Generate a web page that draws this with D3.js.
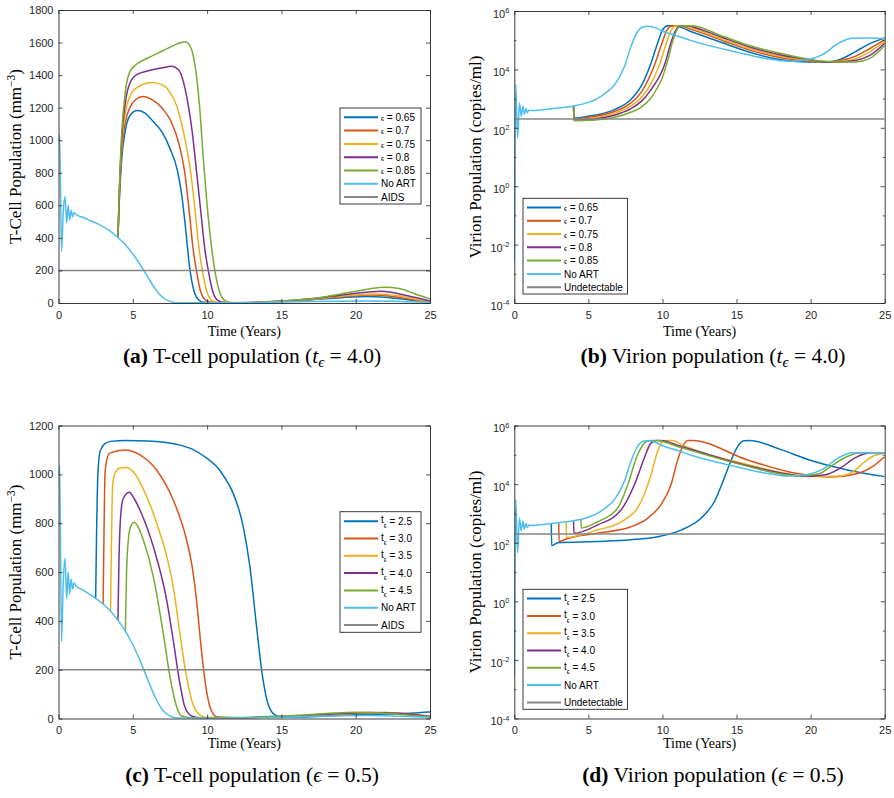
<!DOCTYPE html>
<html>
<head>
<meta charset="utf-8">
<script src="https://cdn.jsdelivr.net/npm/d3@7/dist/d3.min.js"></script>
<style>
  body { margin: 0; background: #fff; }
  svg { display: block; }
</style>
</head>
<body>
<svg id="chart" width="894" height="798"></svg>
<script>
// ---- tick labels ----
const yearTicks = [0, 5, 10, 15, 20, 25];
const tcellTicksA = [0, 200, 400, 600, 800, 1000, 1200, 1400, 1600, 1800];
const tcellTicksC = [0, 200, 400, 600, 800, 1000, 1200];
const virionTicks = [1e-4, 1e-2, 1, 1e2, 1e4, 1e6];

// ---- legend categories ----
const epsLevels = ['0.65', '0.7', '0.75', '0.8', '0.85'];
const startTimes = ['2.5', '3.0', '3.5', '4.0', '4.5'];
const aidsLevel = 200;          // T-cells / mm^3
const undetectableLevel = 200;  // copies / ml

// ---- T-cell population, no treatment [years, cells/mm^3] ----
const tcellNoArt = [[0,1000],[0.08,1035],[0.2,315],[0.32,560],[0.44,655],[0.55,490],[0.65,600],[0.75,510],[0.85,570],
  [0.95,530],[1.05,555],[1.2,542],[1.6,528],[2,512],[2.5,492],[3,469],[3.5,440],[4,402],[4.5,358],[5,302],[5.5,235],
  [6,160],[6.5,88],[7,35],[7.5,10],[8,2],[10,1],[13,3],[16,7],[19,11],[21,12],[23,9],[25,5]];

// (a) T-cells, treatment from t = 4.0 with different efficacies
const tcellEps065 = [[4,402],[4.1,640],[4.25,880],[4.5,1060],[4.8,1150],[5.3,1182],[5.8,1168],[6.4,1112],[7,1045],[7.5,950],
  [8,815],[8.3,660],[8.55,460],[8.85,200],[9.1,80],[9.4,22],[9.8,4],[11,1],[13,3],[15,10],[17,20],[19,33],[20.8,40],[22,35],[23.5,20],[25,3]];
const tcellEps07 = [[4,402],[4.1,660],[4.25,920],[4.5,1110],[4.8,1200],[5.2,1250],[5.7,1268],[6.3,1250],[7,1195],[7.6,1110],
  [8.1,980],[8.5,800],[8.8,560],[9.05,340],[9.28,200],[9.55,75],[9.9,18],[10.4,3],[12,1],[15,11],[17,22],[19,38],[21,49],[22.5,40],[24,18],[25,5]];
const tcellEps075 = [[4,402],[4.1,680],[4.25,960],[4.5,1170],[4.8,1270],[5.3,1325],[6.3,1355],[7,1340],[7.5,1295],[8,1200],
  [8.5,1010],[8.9,800],[9.2,560],[9.45,340],[9.68,200],[9.95,80],[10.3,18],[10.8,3],[12,1],[15,11],[17,24],[19,42],[21.3,56],[23,43],[24,25],[25,8]];
const tcellEps08 = [[4,402],[4.1,700],[4.25,1000],[4.5,1230],[4.8,1350],[5.3,1405],[6,1425],[7,1445],[7.6,1455],[8.1,1430],
  [8.6,1280],[9,1050],[9.3,800],[9.6,540],[9.85,330],[10.08,200],[10.35,80],[10.7,18],[11.2,3],[12,1],[15,12],[17,26],[19,48],[21.7,72],[23.5,45],[25,12]];
const tcellEps085 = [[4,402],[4.1,720],[4.25,1040],[4.5,1300],[4.8,1420],[5.3,1470],[6,1505],[7,1548],[8,1592],[8.55,1605],
  [8.9,1570],[9.25,1420],[9.5,1200],[9.75,880],[10,600],[10.25,380],[10.52,200],[10.8,80],[11.15,18],[11.6,3],[12.5,1],
  [15,13],[16,18],[18,39],[20,72],[21.9,96],[23,88],[24,55],[25,25]];

// (c) T-cells, efficacy 0.5 with different start times
const tcellStart25 = [[2.5,492],[2.56,750],[2.65,1000],[2.8,1095],[3.1,1125],[3.5,1135],[4.5,1139],[6,1137],[8,1122],[9,1103],
  [10,1065],[10.64,1032],[11.2,985],[11.76,922],[12.43,786],[12.88,622],[13.33,376],[13.67,198],[14,82],[14.45,20],[14.9,7],
  [16,6],[18,10],[20,15],[22,18],[24,23],[25,27]];
const tcellStart30 = [[3,469],[3.06,750],[3.13,1000],[3.25,1060],[3.46,1087],[4.47,1100],[5.48,1080],[6.6,1018],[7.72,895],
  [8.62,731],[9,620],[9.29,485],[9.52,340],[9.74,212],[10,100],[10.19,48],[10.64,7],[12,3],[15,8],[18,15],[20,20],[22,25],[23,22],[25,10]];
const tcellStart35 = [[3.5,440],[3.56,700],[3.64,950],[3.8,1005],[4.1,1025],[4.54,1028],[5.03,1011],[5.93,909],[6.83,759],
  [7.3,660],[7.72,540],[8.17,349],[8.5,212],[8.96,75],[9.52,14],[10,4],[12,3],[15,8],[18,16],[21,24],[22.5,22],[25,8]];
const tcellStart40 = [[4,402],[4.07,650],[4.18,827],[4.35,900],[4.76,927],[5.1,900],[5.48,854],[6.38,704],[7.28,485],
  [7.72,321],[8.17,143],[8.5,48],[8.96,10],[9.5,3],[12,3],[15,8],[18,17],[21,25],[23,20],[25,7]];
const tcellStart45 = [[4.5,358],[4.58,600],[4.7,731],[4.85,785],[5.1,804],[5.4,780],[5.71,731],[6.38,581],[7.05,349],
  [7.5,171],[7.95,48],[8.28,10],[9,3],[12,4],[15,10],[18,20],[20,26],[22,22],[25,6]];

// ---- Virion population, no treatment [years, copies/ml] ----
const virionNoArt = [[0,2.5e-3],[0.1,3.0e3],[0.22,45],[0.35,7.0e2],[0.47,2.5e2],[0.58,5.5e2],[0.68,2.9e2],[0.78,4.6e2],
  [0.88,3.3e2],[1,4.0e2],[1.2,3.9e2],[2,4.2e2],[3,4.8e2],[4,5.6e2],[5,7.4e2],[5.6,1.0e3],[6.2,1.6e3],[6.75,2.9e3],
  [7.1,5.6e3],[7.42,1.2e4],[7.87,6.0e4],[8.32,1.95e5],[8.7,2.9e5],[9,3.0e5],[9.5,2.7e5],[10.1,1.95e5],[11,1.4e5],
  [12,9.5e4],[13.5,5.9e4],[15,3.9e4],[16.9,2.4e4],[18.6,1.9e4],[19.7,2.1e4],[20.8,3.2e4],[21.9,8.0e4],[22.8,1.17e5],
  [24,1.2e5],[25,1.15e5]];

// (b) virions, treatment from t = 4.0 with different efficacies
const virionEps065 = [[4,5.6e2],[4.02,2.15e2],[5,2.5e2],[5.62,2.8e2],[6.75,4.2e2],[7.87,9.3e2],[8.55,2.6e3],[9.22,1.6e4],
  [9.67,7.8e4],[10,2.2e5],[10.35,3.1e5],[10.8,3.15e5],[12,1.9e5],[14,8.3e4],[16,3.7e4],[18,2.15e4],[20,1.8e4],[21,1.8e4],
  [22,2.2e4],[23,4.0e4],[24,7.6e4],[25,1.2e5]];
const virionEps07 = [[4,5.6e2],[4.02,2.0e2],[5,2.3e2],[5.62,2.55e2],[6.75,3.6e2],[7.87,7.1e2],[8.55,1.6e3],[9.5,1.6e4],
  [9.95,7.5e4],[10.3,2.2e5],[10.65,3.1e5],[11.1,3.15e5],[12,2.3e5],[14,1.0e5],[16,4.4e4],[18,2.5e4],[20,1.9e4],[21,1.8e4],
  [22,2.0e4],[23,2.8e4],[24,5.2e4],[25,1.05e5]];
const virionEps075 = [[4,5.6e2],[4.02,1.9e2],[5,2.1e2],[5.62,2.3e2],[6.75,3.1e2],[7.87,5.6e2],[8.55,1.05e3],[9.22,3.2e3],
  [9.83,1.6e4],[10.25,7.5e4],[10.6,2.2e5],[10.95,3.1e5],[11.4,3.15e5],[12,2.6e5],[14,1.1e5],[16,5.0e4],[18,2.8e4],[20,2.0e4],
  [21,1.8e4],[22,1.85e4],[23,2.3e4],[24,4.0e4],[25,9.1e4]];
const virionEps08 = [[4,5.6e2],[4.02,1.8e2],[5,1.95e2],[5.62,2.1e2],[6.75,2.7e2],[7.87,4.5e2],[8.55,7.9e2],[9.22,2.0e3],
  [10.17,1.6e4],[10.55,7.5e4],[10.9,2.2e5],[11.25,3.1e5],[11.7,3.15e5],[12,2.9e5],[14,1.26e5],[16,5.6e4],[18,3.1e4],
  [20,2.1e4],[21,1.8e4],[22,1.8e4],[23,2.0e4],[24,3.0e4],[25,7.9e4]];
const virionEps085 = [[4,5.6e2],[4.02,1.75e2],[5,1.8e2],[5.62,1.9e2],[6.75,2.3e2],[7.87,3.4e2],[8.55,5.0e2],[9.22,1.05e3],
  [9.67,2.4e3],[10,5.4e3],[10.35,2.0e4],[10.7,9.5e4],[11,2.4e5],[11.3,3.1e5],[12,3.15e5],[14,1.4e5],[16,6.3e4],[18,3.5e4],
  [20,2.2e4],[21,1.9e4],[22,1.8e4],[23,1.8e4],[24,2.4e4],[25,6.6e4]];

// (d) virions, efficacy 0.5 with different start times
const virionStart25 = [[2.5,4.5e2],[2.52,78],[2.92,1.0e2],[5.6,1.1e2],[7.87,1.26e2],[9.67,1.6e2],[11.25,2.7e2],[12.6,6.8e2],
  [13.5,2.5e3],[14.17,1.6e4],[14.6,5.9e4],[15.07,1.9e5],[15.5,3.0e5],[15.9,3.1e5],[16.3,2.9e5],[18,1.5e5],[20.2,6.0e4],
  [22.4,3.1e4],[25,1.8e4]];
const virionStart30 = [[3,4.8e2],[3.02,1.1e2],[3.6,1.4e2],[5.6,2.1e2],[7.87,3.5e2],[9,6.8e2],[9.9,2.0e3],[10.57,9.3e3],
  [11,5.9e4],[11.36,1.9e5],[11.7,3.1e5],[12,3.1e5],[15.7,6.8e4],[19.1,2.3e4],[21.4,1.75e4],[23.2,2.3e4],[24.2,4.0e4],[25,8.7e4]];
const virionStart35 = [[3.5,5.2e2],[3.52,1.5e2],[5.6,2.7e2],[7.42,5.9e2],[8.55,2.5e3],[9.22,2.0e4],[9.67,1.3e5],[10,2.8e5],
  [10.4,3.1e5],[10.7,3.1e5],[11.18,2.35e5],[15.7,4.7e4],[18,2.5e4],[20.3,1.8e4],[22,1.9e4],[22.8,2.5e4],[23.5,5.0e4],
  [24.2,8.9e4],[25,1.12e5]];
const virionStart40 = [[4,5.6e2],[4.02,2.1e2],[5.6,4.0e2],[7.2,1.3e3],[8.1,9.3e3],[8.77,7.6e4],[9.22,2.5e5],[9.6,3.1e5],
  [9.9,3.1e5],[11.18,2.0e5],[15.7,4.3e4],[18,2.4e4],[19.6,1.85e4],[21,2.1e4],[22,3.5e4],[23,7.9e4],[24.1,1.17e5],[25,1.17e5]];
const virionStart45 = [[4.5,6.3e2],[4.52,3.2e2],[5.6,5.1e2],[6.97,1.5e3],[7.65,9.3e3],[8.32,1.0e5],[8.9,2.8e5],[9.3,3.1e5],
  [9.6,3.1e5],[11.18,1.8e5],[15.7,4.1e4],[18,2.2e4],[19.2,1.9e4],[20.5,2.2e4],[21.5,4.5e4],[22.5,8.9e4],[23.5,1.17e5],[25,1.17e5]];

// MATLAB default line colours
const colors = ['#0072BD', '#D95319', '#EDB120', '#7E2F8E', '#77AC30', '#4DBEEE'];
const grey = '#868686';
const ink = '#262626';
const sans = 'Liberation Sans, Arial, sans-serif';
const serif = 'Liberation Serif, Times New Roman, serif';

const svg = d3.select('#chart');
svg.append('rect').attr('width', 894).attr('height', 798).attr('fill', '#fff');

const panels = [
  { id: 'a', left: 58.5, right: 430, top: 10, bottom: 303, log: false, yMax: 1800, yTicks: tcellTicksA,
    series: [tcellEps065, tcellEps07, tcellEps075, tcellEps08, tcellEps085, tcellNoArt], level: aidsLevel,
    yTitle: 'tcell', titleX: 21, xTitleY: 336,
    legend: { x: 340, y: 108, w: 81, h: 96, first: 9.3, step: 13.3, kind: 'eps', last: 'AIDS' },
    caption: { x: 252, y: 363, tag: '(a)', text: ' T-cell population (', sym: 't', sub: 'ϵ', value: ' = 4.0)' } },
  { id: 'b', left: 514.3, right: 884.7, top: 11, bottom: 303, log: true, yTicks: virionTicks,
    series: [virionEps065, virionEps07, virionEps075, virionEps08, virionEps085, virionNoArt], level: undetectableLevel,
    yTitle: 'virion', titleX: 481, xTitleY: 336,
    legend: { x: 523, y: 198.3, w: 104.5, h: 95.7, first: 9.1, step: 13.3, kind: 'eps', last: 'Undetectable' },
    caption: { x: 713, y: 363, tag: '(b)', text: ' Virion population (', sym: 't', sub: 'ϵ', value: ' = 4.0)' } },
  { id: 'c', left: 58.5, right: 430, top: 425.5, bottom: 718.5, log: false, yMax: 1200, yTicks: tcellTicksC,
    series: [tcellStart25, tcellStart30, tcellStart35, tcellStart40, tcellStart45, tcellNoArt], level: aidsLevel,
    yTitle: 'tcell', titleX: 21, xTitleY: 748,
    legend: { x: 340, y: 511.7, w: 81, h: 120.6, first: 9.5, step: 17.3, kind: 'start', last: 'AIDS' },
    caption: { x: 252, y: 782, tag: '(c)', text: ' T-cell population (', sym: 'ϵ', sub: '', value: ' = 0.5)' } },
  { id: 'd', left: 514.3, right: 884.7, top: 425.5, bottom: 718.5, log: true, yTicks: virionTicks,
    series: [virionStart25, virionStart30, virionStart35, virionStart40, virionStart45, virionNoArt], level: undetectableLevel,
    yTitle: 'virion', titleX: 481, xTitleY: 748,
    legend: { x: 523, y: 589.3, w: 104.5, h: 120, first: 9.3, step: 17.3, kind: 'start', last: 'Undetectable' },
    caption: { x: 713, y: 782, tag: '(d)', text: ' Virion population (', sym: 'ϵ', sub: '', value: ' = 0.5)' } }
];

panels.forEach(drawPanel);

function drawPanel(p) {
  const g = svg.append('g').attr('class', 'panel-' + p.id);

  const x = d3.scaleLinear().domain([0, 25]).range([p.left, p.right]);
  const y = p.log
    ? d3.scaleLog().domain([1e-4, 1e6]).range([p.bottom, p.top])
    : d3.scaleLinear().domain([0, p.yMax]).range([p.bottom, p.top]);

  // clip the curves to the axes box like matlab does
  g.append('clipPath').attr('id', 'clip-' + p.id)
    .append('rect')
    .attr('x', p.left).attr('y', p.top)
    .attr('width', p.right - p.left).attr('height', p.bottom - p.top);

  const line = d3.line()
    .x(d => x(d[0]))
    .y(d => y(d[1]))
    .curve(d3.curveMonotoneX);

  const plot = g.append('g').attr('clip-path', `url(#clip-${p.id})`);

  plot.selectAll('.series')
    .data(p.series)
    .enter()
    .append('path')
    .attr('class', 'series')
    .attr('d', d => line(d))
    .attr('fill', 'none')
    .attr('stroke', (d, i) => colors[i])
    .attr('stroke-width', 1.5)
    .attr('stroke-linejoin', 'round');

  // AIDS / undetectable threshold
  plot.append('line')
    .attr('x1', x(0)).attr('x2', x(25))
    .attr('y1', y(p.level)).attr('y2', y(p.level))
    .attr('stroke', grey)
    .attr('stroke-width', 1.5);

  // axes box, ticks pointing inwards on all four sides
  g.append('g')
    .attr('transform', `translate(0,${p.bottom})`)
    .call(d3.axisBottom(x).tickValues(yearTicks).tickSize(-4).tickSizeOuter(0).tickPadding(8));
  g.append('g')
    .attr('transform', `translate(0,${p.top})`)
    .call(d3.axisTop(x).tickValues(yearTicks).tickSize(-4).tickSizeOuter(0).tickFormat(''));

  const leftAxis = g.append('g')
    .attr('transform', `translate(${p.left},0)`)
    .call(d3.axisLeft(y).tickValues(p.yTicks).tickSize(-4).tickSizeOuter(0).tickPadding(5)
      .tickFormat(p.log ? () => '' : d3.format('d')));
  g.append('g')
    .attr('transform', `translate(${p.right},0)`)
    .call(d3.axisRight(y).tickValues(p.yTicks).tickSize(-4).tickSizeOuter(0).tickFormat(''));

  if (p.log) {
    // minor ticks of the log axis
    const minor = y.ticks().filter(v => !p.yTicks.includes(v));
    g.append('g').attr('class', 'minor')
      .attr('transform', `translate(${p.left},0)`)
      .call(d3.axisLeft(y).tickValues(minor).tickSize(-2).tickFormat(''));
    g.append('g').attr('class', 'minor')
      .attr('transform', `translate(${p.right},0)`)
      .call(d3.axisRight(y).tickValues(minor).tickSize(-2).tickFormat(''));
    g.selectAll('.minor .domain').remove();

    // 10^n labels
    leftAxis.selectAll('.tick text').each(function(d) {
      const t = d3.select(this).attr('dy', null).attr('y', 6.4);
      t.append('tspan').text('10');
      t.append('tspan').attr('dy', -4.8).attr('font-size', 7.5).text(Math.round(Math.log10(d)));
    });
  }

  g.selectAll('.domain').attr('stroke', ink).attr('stroke-width', 0.9);
  g.selectAll('.tick line').attr('stroke', ink).attr('stroke-width', 0.8);
  g.selectAll('.tick text')
    .attr('fill', ink)
    .attr('font-family', sans)
    .attr('font-size', 11);
  g.selectAll('g').attr('font-family', null).attr('font-size', null);

  // x title
  g.append('text')
    .attr('x', (p.left + p.right) / 2)
    .attr('y', p.xTitleY)
    .attr('text-anchor', 'middle')
    .attr('font-family', serif)
    .attr('font-size', 14)
    .attr('fill', '#000')
    .text('Time (Years)');

  // y title
  const yt = g.append('text')
    .attr('transform', `translate(${p.titleX},${(p.top + p.bottom) / 2}) rotate(-90)`)
    .attr('text-anchor', 'middle')
    .attr('font-family', serif)
    .attr('font-size', 17)
    .attr('fill', '#000');
  if (p.yTitle === 'tcell') {
    yt.append('tspan').text('T-Cell Population (mm');
    yt.append('tspan').attr('dy', -6.5).attr('font-size', 11.5).text('−3');
    yt.append('tspan').attr('dy', 6.5).text(')');
  } else {
    yt.text('Virion Population (copies/ml)');
  }

  drawLegend(g, p.legend);
  drawCaption(p.caption);
}

function drawLegend(g, L) {
  const labels = L.kind === 'eps' ? epsLevels : startTimes;
  const names = labels.concat(['No ART', L.last]);

  g.append('rect')
    .attr('x', L.x).attr('y', L.y)
    .attr('width', L.w).attr('height', L.h)
    .attr('fill', '#fff')
    .attr('stroke', ink)
    .attr('stroke-width', 0.9);

  names.forEach((name, i) => {
    const cy = L.y + L.first + i * L.step;
    g.append('line')
      .attr('x1', L.x + 4).attr('x2', L.x + 38)
      .attr('y1', cy).attr('y2', cy)
      .attr('stroke', i < 6 ? colors[i] : grey)
      .attr('stroke-width', 2);

    const t = g.append('text')
      .attr('x', L.x + 41)
      .attr('y', cy + 3.6)
      .attr('font-family', sans)
      .attr('font-size', 10)
      .attr('fill', '#000');

    if (i >= 5) {
      t.text(name);
    } else if (L.kind === 'eps') {
      t.append('tspan').attr('font-size', 7).text('ϵ');
      t.append('tspan').text(' = ' + name);
    } else {
      t.append('tspan').attr('dy', -1.5).text('t');
      t.append('tspan').attr('dy', 4.5).attr('font-size', 6.5).text('ϵ');
      t.append('tspan').attr('dy', -3).text(' = ' + name);
    }
  });
}

function drawCaption(c) {
  const t = svg.append('text')
    .attr('x', c.x)
    .attr('y', c.y)
    .attr('text-anchor', 'middle')
    .attr('font-family', serif)
    .attr('font-size', 21.5)
    .attr('fill', '#000');
  t.append('tspan').attr('font-weight', 'bold').text(c.tag);
  t.append('tspan').text(c.text);
  t.append('tspan').attr('font-style', 'italic').text(c.sym);
  if (c.sub) {
    t.append('tspan').attr('font-style', 'italic').attr('font-size', 15).attr('dy', 4).text(c.sub);
    t.append('tspan').attr('dy', -4).text(c.value);
  } else {
    t.append('tspan').text(c.value);
  }
}
</script>
</body>
</html>
